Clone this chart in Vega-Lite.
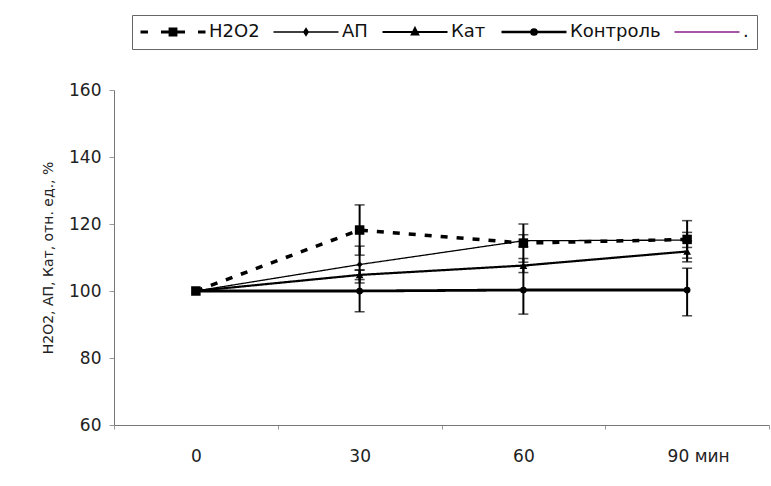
{
  "$schema": "https://vega.github.io/schema/vega-lite/v6.json",
  "autosize": {"type": "none"},
  "width": 655,
  "height": 335,
  "padding": {"left": 114, "top": 90, "right": 2, "bottom": 61},
  "background": "white",
  "config": {
    "view": {"stroke": null},
    "font": "DejaVu Sans"
  },
  "data": {
    "values": [
      {"series": "Контроль", "t": "0", "v": 100, "lo": null, "hi": null},
      {"series": "Контроль", "t": "30", "v": 100, "lo": 93.8, "hi": 106.2},
      {"series": "Контроль", "t": "60", "v": 100.3, "lo": 93.1, "hi": 107.5},
      {"series": "Контроль", "t": "90 мин", "v": 100.3, "lo": 92.6, "hi": 106.8},
      {"series": "Кат", "t": "0", "v": 100, "lo": null, "hi": null},
      {"series": "Кат", "t": "30", "v": 104.8, "lo": 103.4, "hi": 106.3},
      {"series": "Кат", "t": "60", "v": 107.6, "lo": 105.5, "hi": 109.7},
      {"series": "Кат", "t": "90 мин", "v": 111.8, "lo": 108.7, "hi": 114.9},
      {"series": "АП", "t": "0", "v": 100, "lo": null, "hi": null},
      {"series": "АП", "t": "30", "v": 107.9, "lo": 102.4, "hi": 113.4},
      {"series": "АП", "t": "60", "v": 115, "lo": 113.2, "hi": 116.8},
      {"series": "АП", "t": "90 мин", "v": 115.2, "lo": 113, "hi": 117.5},
      {"series": "H2O2", "t": "0", "v": 100, "lo": null, "hi": null},
      {"series": "H2O2", "t": "30", "v": 118.2, "lo": 110.7, "hi": 125.7},
      {"series": "H2O2", "t": "60", "v": 114.3, "lo": 108.6, "hi": 120},
      {"series": "H2O2", "t": "90 мин", "v": 115.4, "lo": 109.8, "hi": 121}
    ]
  },
  "encoding": {
    "x": {
      "field": "t",
      "type": "ordinal",
      "sort": ["0", "30", "60", "90 мин"],
      "scale": {"type": "band", "paddingInner": 0, "paddingOuter": 0},
      "axis": {
        "title": null,
        "labelAngle": 0,
        "tickBand": "extent",
        "tickSize": 4,
        "tickColor": "#999",
        "domainColor": "#777",
        "labelFont": "DejaVu Sans",
        "labelFontSize": 17,
        "labelColor": "#222",
        "labelPadding": 19,
        "labelOffset": {"condition": {"test": "datum.label == '90 мин'", "value": 11}, "value": 0}
      }
    }
  },
  "layer": [
    {
      "transform": [{"filter": "datum.lo != null"}],
      "mark": {"type": "rule", "color": "black", "strokeWidth": 2},
      "encoding": {
        "y": {"field": "lo", "type": "quantitative"},
        "y2": {"field": "hi"}
      }
    },
    {
      "transform": [{"filter": "datum.lo != null"}],
      "mark": {"type": "tick", "color": "black", "size": 10, "thickness": 1.5},
      "encoding": {"y": {"field": "lo", "type": "quantitative"}}
    },
    {
      "transform": [{"filter": "datum.lo != null"}],
      "mark": {"type": "tick", "color": "black", "size": 10, "thickness": 1.5},
      "encoding": {"y": {"field": "hi", "type": "quantitative"}}
    },
    {
      "mark": {"type": "line"},
      "encoding": {
        "y": {
          "field": "v",
          "type": "quantitative",
          "scale": {"domain": [60, 160], "nice": false, "zero": false},
          "axis": {
            "values": [60, 80, 100, 120, 140, 160],
            "grid": false,
            "title": "H2O2, АП, Кат, отн. ед., %",
            "titleFont": "DejaVu Sans",
            "titleFontSize": 14,
            "titleFontWeight": "normal",
            "titleColor": "#222",
            "titlePadding": 13,
            "tickSize": 5,
            "tickColor": "#999",
            "domainColor": "#777",
            "labelFont": "DejaVu Sans",
            "labelFontSize": 17,
            "labelColor": "#222",
            "labelPadding": 8
          }
        },
        "color": {
          "field": "series",
          "type": "nominal",
          "scale": {
            "domain": ["H2O2", "АП", "Кат", "Контроль", "."],
            "range": ["black", "black", "black", "black", "#8a1e8a"]
          },
          "legend": {
            "orient": "none",
            "legendX": 18,
            "legendY": -75,
            "direction": "horizontal",
            "columns": 5,
            "title": null,
            "symbolSize": 4225,
            "symbolOffset": 24,
            "symbolStrokeWidth": 2,
            "labelFont": "DejaVu Sans",
            "labelFontSize": 18,
            "labelColor": "#111",
            "labelOffset": 27,
            "columnPadding": 10,
            "padding": 8,
            "strokeColor": "#666",
            "fillColor": "white",
            "encode": {
              "symbols": {
                "update": {
                  "size": {"value": 4225},
                  "shape": {"signal": "datum.value === 'H2O2' ? 'M-1,0H-0.77M-0.37,0H0.37M0.77,0H1M-0.09,-0.09H0.09V0.09H-0.09Z' : datum.value === 'АП' ? 'M-1,0H1M0,-0.11L0.07,0L0,0.11L-0.07,0Z' : datum.value === 'Кат' ? 'M-1,0H1M0,-0.12L0.1,0.08H-0.1Z' : datum.value === 'Контроль' ? 'M-1,0H1M-0.08,0A0.08,0.08 0 1,0 0.08,0A0.08,0.08 0 1,0 -0.08,0Z' : 'M-1,0H1'"},
                  "strokeWidth": {"signal": "datum.value === 'H2O2' ? 3 : datum.value === 'АП' ? 1.3 : datum.value === 'Кат' ? 2 : datum.value === 'Контроль' ? 2.5 : 1.5"},
                  "fill": {"signal": "datum.value === '.' ? 'transparent' : 'black'"}
                }
              }
            }
          }
        },
        "strokeDash": {
          "field": "series",
          "type": "nominal",
          "scale": {
            "type": "ordinal",
            "domain": ["H2O2", "АП", "Кат", "Контроль"],
            "range": [[7, 9], [1, 0], [1, 0], [1, 0]]
          },
          "legend": null
        },
        "strokeWidth": {
          "field": "series",
          "type": "nominal",
          "scale": {
            "type": "ordinal",
            "domain": ["H2O2", "АП", "Кат", "Контроль"],
            "range": [3.5, 1.3, 2.2, 2.8]
          },
          "legend": null
        }
      }
    },
    {
      "mark": {"type": "point", "filled": true, "color": "black", "opacity": 1},
      "encoding": {
        "y": {"field": "v", "type": "quantitative"},
        "shape": {
          "field": "series",
          "type": "nominal",
          "scale": {
            "domain": ["H2O2", "АП", "Кат", "Контроль"],
            "range": ["square", "diamond", "triangle-up", "circle"]
          },
          "legend": null
        },
        "size": {
          "field": "series",
          "type": "nominal",
          "scale": {
            "type": "ordinal",
            "domain": ["H2O2", "АП", "Кат", "Контроль"],
            "range": [90, 35, 60, 45]
          },
          "legend": null
        }
      }
    }
  ]
}
